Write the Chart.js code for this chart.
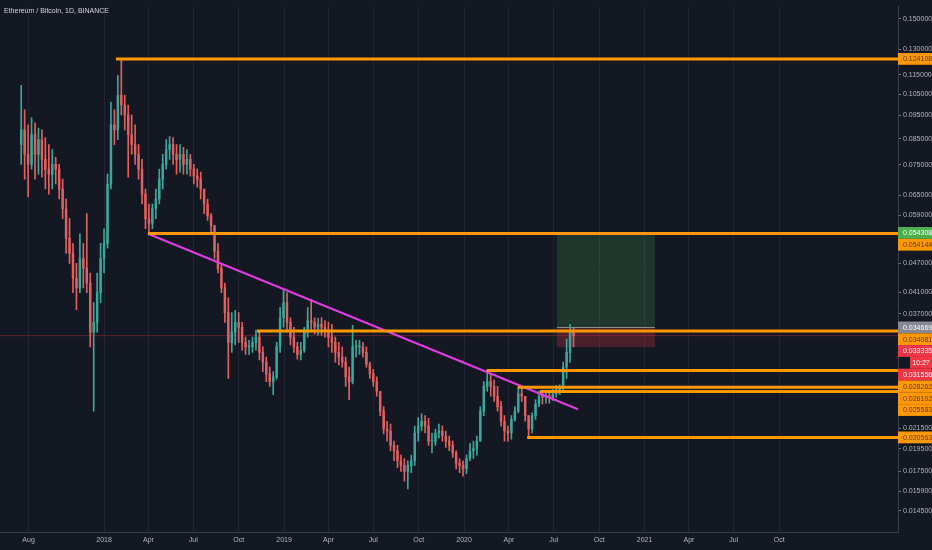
<!DOCTYPE html>
<html>
<head>
<meta charset="utf-8">
<script src="https://cdn.jsdelivr.net/npm/chart.js@4.4.1/dist/chart.umd.min.js"></script>
<style>
  html, body { margin: 0; padding: 0; background: #141823; }
  #wrap { width: 932px; height: 550px; }
</style>
</head>
<body>
<div id="wrap"><canvas id="chart" width="932" height="550"></canvas></div>
<script>
// weekly candles, first week starting 2017-07-14
const firstWeek = '2017-07-14';
const firstOpen = 0.0826;
const highs = [
  0.1095, 0.0974, 0.0907, 0.0938, 0.0916, 0.0894, 0.0886, 0.0854, 0.0826, 0.0807,
  0.0778, 0.0752, 0.0701, 0.0638, 0.0581, 0.0517, 0.0470, 0.0541, 0.0517, 0.0595,
  0.0449, 0.0390, 0.0449, 0.0517, 0.0554, 0.0718, 0.1011, 0.0974, 0.1148, 0.1241,
  0.1045, 0.0997, 0.0951, 0.0907, 0.0826, 0.0770, 0.0669, 0.0623, 0.0623, 0.0669,
  0.0735, 0.0789, 0.0846, 0.0858, 0.0854, 0.0826, 0.0826, 0.0815, 0.0807, 0.0789,
  0.0752, 0.0735, 0.0725, 0.0669, 0.0638, 0.0595, 0.0562, 0.0517, 0.0466, 0.0428,
  0.0399, 0.0372, 0.0376, 0.0372, 0.0355, 0.0331, 0.0326, 0.0331, 0.0342, 0.0339,
  0.0316, 0.0301, 0.0287, 0.0281, 0.0323, 0.0381, 0.0414, 0.0409, 0.0363, 0.0347,
  0.0323, 0.0323, 0.0347, 0.0381, 0.0396, 0.0363, 0.0362, 0.0363, 0.0358, 0.0355,
  0.0352, 0.0331, 0.0323, 0.0316, 0.0301, 0.0287, 0.0350, 0.0326, 0.0326, 0.0323,
  0.0316, 0.0294, 0.0284, 0.0274, 0.0256, 0.0238, 0.0222, 0.0219, 0.0202, 0.0198,
  0.0189, 0.0186, 0.0184, 0.0189, 0.0217, 0.0226, 0.0230, 0.0228, 0.0225, 0.0210,
  0.0214, 0.0219, 0.0217, 0.0212, 0.0207, 0.0202, 0.0193, 0.0186, 0.0184, 0.0189,
  0.0200, 0.0202, 0.0207, 0.0238, 0.0268, 0.0283, 0.0278, 0.0270, 0.0262, 0.0244,
  0.0228, 0.0217, 0.0228, 0.0238, 0.0261, 0.0262, 0.0250, 0.0228, 0.0231, 0.0246,
  0.0256, 0.0256, 0.0257, 0.0256, 0.0258, 0.0263, 0.0264, 0.0294, 0.0328, 0.0352,
  0.0345
];
const lows = [
  0.0752, 0.0701, 0.0644, 0.0735, 0.0701, 0.0718, 0.0708, 0.0669, 0.0653, 0.0669,
  0.0685, 0.0638, 0.0581, 0.0493, 0.0470, 0.0409, 0.0377, 0.0409, 0.0418, 0.0409,
  0.0316, 0.0233, 0.0339, 0.0390, 0.0449, 0.0505, 0.0669, 0.0826, 0.0846, 0.0951,
  0.0886, 0.0708, 0.0789, 0.0752, 0.0701, 0.0623, 0.0554, 0.0541, 0.0554, 0.0581,
  0.0623, 0.0669, 0.0735, 0.0770, 0.0752, 0.0718, 0.0725, 0.0718, 0.0718, 0.0711,
  0.0685, 0.0675, 0.0638, 0.0595, 0.0576, 0.0546, 0.0481, 0.0449, 0.0409, 0.0355,
  0.0272, 0.0308, 0.0319, 0.0323, 0.0311, 0.0305, 0.0305, 0.0308, 0.0311, 0.0297,
  0.0281, 0.0268, 0.0262, 0.0252, 0.0271, 0.0308, 0.0347, 0.0339, 0.0319, 0.0308,
  0.0298, 0.0297, 0.0308, 0.0331, 0.0339, 0.0336, 0.0334, 0.0334, 0.0331, 0.0316,
  0.0308, 0.0294, 0.0290, 0.0287, 0.0262, 0.0246, 0.0265, 0.0301, 0.0305, 0.0301,
  0.0287, 0.0272, 0.0262, 0.0250, 0.0228, 0.0209, 0.0202, 0.0193, 0.0184, 0.0178,
  0.0175, 0.0167, 0.0161, 0.0174, 0.0180, 0.0202, 0.0212, 0.0210, 0.0198, 0.0191,
  0.0198, 0.0205, 0.0202, 0.0196, 0.0193, 0.0187, 0.0177, 0.0174, 0.0171, 0.0173,
  0.0184, 0.0186, 0.0189, 0.0202, 0.0228, 0.0256, 0.0250, 0.0244, 0.0233, 0.0217,
  0.0202, 0.0202, 0.0204, 0.0222, 0.0231, 0.0244, 0.0222, 0.0206, 0.0210, 0.0224,
  0.0238, 0.0241, 0.0242, 0.0242, 0.0245, 0.0249, 0.0252, 0.0256, 0.0272, 0.0294,
  0.0316
];
const closes = [
  0.0886, 0.0789, 0.0752, 0.0866, 0.0789, 0.0846, 0.0770, 0.0735, 0.0718, 0.0752,
  0.0735, 0.0669, 0.0609, 0.0529, 0.0493, 0.0438, 0.0418, 0.0481, 0.0459, 0.0428,
  0.0339, 0.0355, 0.0409, 0.0481, 0.0517, 0.0685, 0.0907, 0.0886, 0.1045, 0.0997,
  0.0951, 0.0866, 0.0826, 0.0789, 0.0735, 0.0653, 0.0581, 0.0568, 0.0609, 0.0638,
  0.0701, 0.0752, 0.0807, 0.0826, 0.0789, 0.0770, 0.0789, 0.0752, 0.0770, 0.0735,
  0.0711, 0.0701, 0.0669, 0.0623, 0.0589, 0.0562, 0.0498, 0.0459, 0.0418, 0.0372,
  0.0323, 0.0339, 0.0355, 0.0347, 0.0323, 0.0316, 0.0316, 0.0323, 0.0331, 0.0308,
  0.0294, 0.0278, 0.0268, 0.0274, 0.0316, 0.0363, 0.0390, 0.0355, 0.0331, 0.0316,
  0.0305, 0.0311, 0.0339, 0.0358, 0.0355, 0.0347, 0.0352, 0.0347, 0.0342, 0.0331,
  0.0323, 0.0308, 0.0301, 0.0294, 0.0274, 0.0268, 0.0316, 0.0316, 0.0316, 0.0308,
  0.0291, 0.0278, 0.0268, 0.0256, 0.0233, 0.0214, 0.0212, 0.0198, 0.0193, 0.0184,
  0.0180, 0.0175, 0.0180, 0.0184, 0.0210, 0.0217, 0.0222, 0.0217, 0.0202, 0.0202,
  0.0210, 0.0212, 0.0207, 0.0202, 0.0198, 0.0191, 0.0182, 0.0180, 0.0177, 0.0186,
  0.0193, 0.0195, 0.0202, 0.0233, 0.0262, 0.0268, 0.0262, 0.0250, 0.0238, 0.0222,
  0.0212, 0.0210, 0.0224, 0.0233, 0.0253, 0.0250, 0.0228, 0.0214, 0.0228, 0.0241,
  0.0250, 0.0249, 0.0250, 0.0249, 0.0253, 0.0256, 0.0260, 0.0287, 0.0308, 0.0339,
  0.0333
];

// drawings
const levelValues = [0.124108, 0.054144, 0.034081, 0.028262, 0.026102, 0.025583, 0.020563];
const levelStarts = ['2018-01-25', '2018-03-31', '2018-11-07', '2020-02-16', '2020-04-19', '2020-06-03', '2020-05-08'];
const trendDates = ['2018-03-31', '2020-08-19'];
const trendValues = [0.0541, 0.0235];
const posDates = ['2020-07-07', '2021-01-22'];
const posTarget = 0.054308;
const posEntry = 0.034669;
const posStop = 0.031556;
const lastPrice = 0.033335;
const countdown = '10:27';

// axes
const monthTicks = ['2017-08-01', '2018-01-01', '2018-04-01', '2018-07-01', '2018-10-01', '2019-01-01',
  '2019-04-01', '2019-07-01', '2019-10-01', '2020-01-01', '2020-04-01', '2020-07-01', '2020-10-01',
  '2021-01-01', '2021-04-01', '2021-07-01', '2021-10-01'];
const monthLabels = ['Aug', '2018', 'Apr', 'Jul', 'Oct', '2019', 'Apr', 'Jul', 'Oct', '2020', 'Apr', 'Jul', 'Oct',
  '2021', 'Apr', 'Jul', 'Oct'];
const priceTicks = [0.15, 0.13, 0.115, 0.105, 0.095, 0.085, 0.075, 0.065, 0.059, 0.047, 0.041, 0.037,
  0.0215, 0.0195, 0.0175, 0.0159, 0.0145];

// axis badges
const badgeValues = [0.124108, 0.054308, 0.054144, 0.034669, 0.034081, 0.033335, 0.031556, 0.028262, 0.026102, 0.025583, 0.020563];
const badgeColors = ['#ff9800', '#4caf50', '#ff9800', '#868993', '#ff9800', '#f23645', '#f23645', '#ff9800', '#ff9800', '#ff9800', '#ff9800'];
const badgeInk = ['#5a3c0a', '#ffffff', '#5a3c0a', '#ffffff', '#5a3c0a', '#ffffff', '#ffffff', '#5a3c0a', '#5a3c0a', '#5a3c0a', '#5a3c0a'];

const DAY0 = Date.UTC(2018, 0, 1);
const toDay = s => (Date.parse(s + 'T00:00:00Z') - DAY0) / 864e5;
const X_MIN = -211, X_MAX = 1610;

const UP = '#3aa89c', DOWN = '#e2605f';
const wicks = [], bodies = [], colors = [];
const start = toDay(firstWeek);
closes.forEach((c, i) => {
    const o = i === 0 ? firstOpen : closes[i - 1];
    const x = start + i * 7 + 3;
    wicks.push({ x: x, y: [Math.min(lows[i], o, c), Math.max(highs[i], o, c)] });
    bodies.push({ x: x, y: [o, c] });
    colors.push(c >= o ? UP : DOWN);
});

const lineSets = levelValues.map((v, i) => ({
    type: 'line',
    data: [{ x: toDay(levelStarts[i]), y: v }, { x: X_MAX, y: v }],
    borderColor: '#ff9800', borderWidth: 3, pointRadius: 0, order: 0
}));

const background = {
    id: 'background',
    beforeDraw(chart) {
        const ctx = chart.ctx;
        ctx.save();
        ctx.fillStyle = '#141823';
        ctx.fillRect(0, 0, chart.width, chart.height);
        ctx.restore();
    }
};

const positionBox = {
    id: 'positionBox',
    beforeDatasetsDraw(chart) {
        const { ctx, chartArea, scales: { x, y } } = chart;
        const x1 = x.getPixelForValue(toDay(posDates[0]));
        const x2 = x.getPixelForValue(toDay(posDates[1]));
        const yT = y.getPixelForValue(posTarget);
        const yE = y.getPixelForValue(posEntry);
        const yS = y.getPixelForValue(posStop);
        ctx.save();
        ctx.beginPath();
        ctx.rect(chartArea.left, chartArea.top, chartArea.width, chartArea.height);
        ctx.clip();
        ctx.fillStyle = 'rgba(76,175,80,0.2)';
        ctx.fillRect(x1, yT, x2 - x1, yE - yT);
        ctx.fillStyle = 'rgba(242,54,69,0.24)';
        ctx.fillRect(x1, yE, x2 - x1, yS - yE);
        ctx.strokeStyle = 'rgba(180,182,190,0.7)';
        ctx.lineWidth = 1;
        ctx.beginPath();
        ctx.moveTo(x1, Math.round(yE) + 0.5);
        ctx.lineTo(x2, Math.round(yE) + 0.5);
        ctx.stroke();
        ctx.restore();
    }
};

const badges = {
    id: 'badges',
    afterDraw(chart) {
        const { ctx, chartArea, scales: { y } } = chart;
        const h = 11.8;
        const items = badgeValues.map((v, i) => ({
            v: v, py: y.getPixelForValue(v), bg: badgeColors[i], ink: badgeInk[i], rows: v === lastPrice ? 2 : 1
        }));
        items.sort((a, b) => a.py - b.py);
        let prev = -Infinity;
        items.forEach(it => {
            it.cy = Math.max(it.py, prev + h);
            prev = it.cy + (it.rows - 1) * h;
        });
        ctx.save();
        ctx.font = '7px "Liberation Sans", Arial, sans-serif';
        ctx.textBaseline = 'middle';
        const left = chartArea.right;
        items.forEach(it => {
            ctx.fillStyle = it.bg;
            ctx.fillRect(left, it.cy - h / 2, chart.width - left, h);
            ctx.fillStyle = it.ink;
            ctx.textAlign = 'left';
            ctx.fillText(it.v.toFixed(6), left + 5, it.cy + 0.5);
            if (it.rows === 2) {
                ctx.fillStyle = it.bg;
                ctx.fillRect(left + 12, it.cy + h / 2, chart.width - left - 12, h);
                ctx.fillStyle = it.ink;
                ctx.textAlign = 'center';
                ctx.fillText(countdown, left + 12 + (chart.width - left - 12) / 2, it.cy + h + 0.5);
            }
        });
        ctx.fillStyle = '#d1d4dc';
        ctx.textAlign = 'left';
        ctx.font = '7px "Liberation Sans", Arial, sans-serif';
        ctx.fillText('Ethereum / Bitcoin, 1D, BINANCE', 4, 11);
        ctx.restore();
    }
};

new Chart(document.getElementById('chart'), {
    type: 'bar',
    data: {
        datasets: [
            ...lineSets,
            {
                type: 'line',
                data: trendDates.map((d, i) => ({ x: toDay(d), y: trendValues[i] })),
                borderColor: '#e33ce3', borderWidth: 2, pointRadius: 0, order: 0
            },
            {
                type: 'line',
                data: [{ x: X_MIN, y: lastPrice }, { x: X_MAX, y: lastPrice }],
                borderColor: 'rgba(242,54,69,0.35)', borderWidth: 1, pointRadius: 0, order: 3
            },
            {
                data: bodies, backgroundColor: colors, barThickness: 1.8, minBarLength: 1,
                grouped: false, order: 1
            },
            {
                data: wicks, backgroundColor: colors, barThickness: 1,
                grouped: false, order: 2
            }
        ]
    },
    options: {
        responsive: false,
        animation: false,
        layout: { padding: 0 },
        plugins: { legend: { display: false }, tooltip: { enabled: false } },
        scales: {
            x: {
                type: 'linear', min: X_MIN, max: X_MAX, offset: false,
                afterFit(s) { s.height = 18; },
                afterBuildTicks(s) { s.ticks = monthTicks.map(d => ({ value: toDay(d) })); },
                ticks: {
                    autoSkip: false, maxRotation: 0, color: '#b2b5be', padding: 4,
                    font: { size: 7, family: '"Liberation Sans", Arial, sans-serif' },
                    callback: (v, i) => monthLabels[i]
                },
                grid: { color: '#222632', drawTicks: false, offset: false },
                border: { color: '#3a3e4a' }
            },
            y: {
                type: 'logarithmic', position: 'right', min: 0.01312, max: 0.1594,
                afterFit(s) { s.width = 34; },
                afterBuildTicks(s) { s.ticks = priceTicks.map(v => ({ value: v })); },
                ticks: {
                    autoSkip: false, color: '#b2b5be', padding: 2,
                    font: { size: 7, family: '"Liberation Sans", Arial, sans-serif' },
                    callback: v => Number(v).toFixed(6)
                },
                grid: { drawOnChartArea: false, drawTicks: true, tickLength: 3, tickColor: '#787b86' },
                border: { color: '#3a3e4a' }
            }
        }
    },
    plugins: [background, positionBox, badges]
});
</script>
</body>
</html>
